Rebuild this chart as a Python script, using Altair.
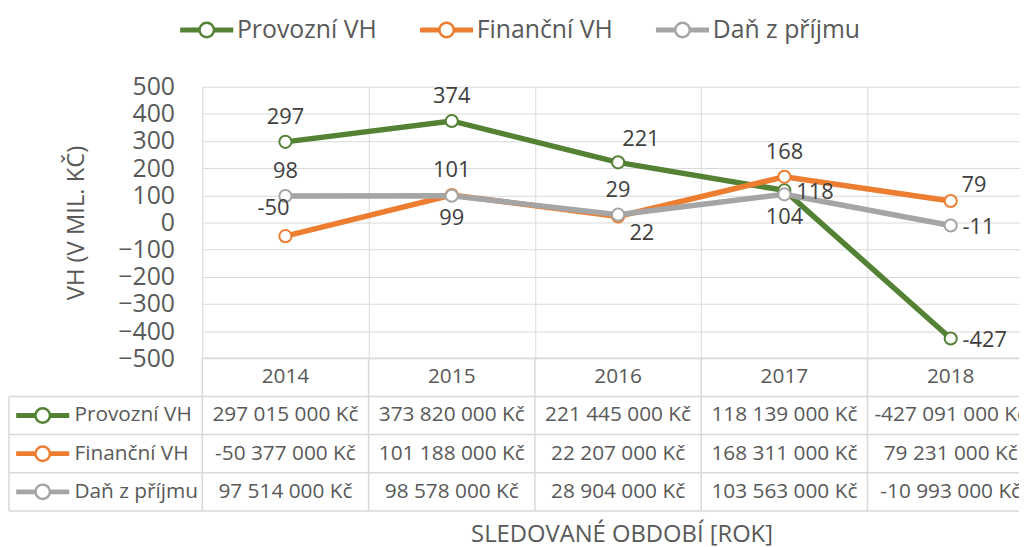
import altair as alt
import pandas as pd

# ---------------- data ----------------
years = ["2014", "2015", "2016", "2017", "2018"]
series_names = ["Provozní VH", "Finanční VH", "Daň z příjmu"]
provozni_vh = [297015000, 373820000, 221445000, 118139000, -427091000]
financni_vh = [-50377000, 101188000, 22207000, 168311000, 79231000]
dan_z_prijmu = [97514000, 98578000, 28904000, 103563000, -10993000]
series_colors = ["#548235", "#ED7D31", "#A5A5A5"]
label_placement = {
    "Provozní VH": ["above", "above", "above_right", "right", "right"],
    "Finanční VH": ["above_left", "above", "below_right", "above", "upper_right"],
    "Daň z příjmu": ["above", "below", "above", "below", "right"],
}

# ---------------- layout / style ----------------
FONT = "Open Sans"
TXT = "#595959"
LBL = "#404040"
GRID = "#D9D9D9"
COL_PX = 167.8
PLOT_W = 824
PLOT_H = 274
TABLE_H = 154
NAME_COL_PX = 195
X_MIN = -0.5
X_MAX = X_MIN + PLOT_W / COL_PX
NAME_LEFT = X_MIN - NAME_COL_PX / COL_PX


def glyph_path(box_px, half_w_px, r_px, bar_half_px):
    u = box_px / 2.0
    w = half_w_px / u
    r = r_px / u
    h = bar_half_px / u
    return (f"M{-w:.4f},{-h:.4f}H{-r:.4f}V{h:.4f}H{-w:.4f}Z "
            f"M{r:.4f},{-h:.4f}H{w:.4f}V{h:.4f}H{r:.4f}Z "
            f"M{r:.4f},0A{r:.4f},{r:.4f},0,1,1,{-r:.4f},0A{r:.4f},{r:.4f},0,1,1,{r:.4f},0Z")


GLYPH_BOX = 36
GLYPH = glyph_path(GLYPH_BOX, 25.5, 7.3, 1.2)

values = {"Provozní VH": provozni_vh, "Finanční VH": financni_vh, "Daň z příjmu": dan_z_prijmu}


def kc(v):
    return f"{v:,}".replace(",", " ") + " Kč"


rows = []
for s_i, s in enumerate(series_names):
    for i, yv in enumerate(years):
        v = values[s][i]
        rows.append(dict(series=s, idx=i, year=yv, mil=v / 1e6,
                         label=str(round(v / 1e6)), pos=label_placement[s][i],
                         row=s_i + 1.5, cell=kc(v)))
df = pd.DataFrame(rows)

color_scale = alt.Scale(domain=series_names, range=series_colors)

# ---------------- top: line chart ----------------
x_top = alt.X("idx:Q", scale=alt.Scale(domain=[X_MIN, X_MAX], nice=False, zero=False),
              axis=alt.Axis(values=[-0.5, 0.5, 1.5, 2.5, 3.5], grid=True, gridColor=GRID,
                            gridWidth=1, labels=False, ticks=False, domain=False, title=None))
y_top = alt.Y("mil:Q", scale=alt.Scale(domain=[-500, 500], nice=False, zero=False),
              axis=alt.Axis(values=list(range(-500, 501, 100)), grid=True, gridColor=GRID,
                            gridWidth=1, ticks=False, tickSize=0, domain=False,
                            labelOverlap=False, labelPadding=28, labelFontSize=25,
                            labelFont=FONT, labelColor=TXT,
                            title="VH (V MIL. KČ)", titleFont=FONT, titleFontSize=24,
                            titleFontWeight="normal", titleColor=TXT, titlePadding=30))
color_top = alt.Color("series:N", scale=color_scale,
                      legend=alt.Legend(orient="none", legendX=-15, legendY=-77,
                                        direction="horizontal", title=None,
                                        symbolType=GLYPH, symbolSize=GLYPH_BOX ** 2,
                                        symbolStrokeWidth=2.5, symbolFillColor="white",
                                        symbolOpacity=1, labelFont=FONT, labelFontSize=25,
                                        labelColor=TXT, labelOffset=11, columnPadding=38,
                                        labelLimit=400))

base = alt.Chart(df)
lines = base.mark_line(strokeWidth=5.5, clip=True).encode(x=x_top, y=y_top, color=color_top)
points = base.mark_point(shape="circle", filled=False, fill="white", fillOpacity=1,
                         size=150, strokeWidth=2, opacity=1, clip=True).encode(
    x=x_top, y=y_top, color=color_top)

placements = {
    "above": ("center", 0, -25),
    "below": ("center", 0, 23),
    "above_right": ("center", 23, -23),
    "right": ("left", 12, 2),
    "above_left": ("center", -12, -28),
    "below_right": ("center", 24, 17),
    "upper_right": ("left", 11, -16),
}
text_layers = []
for p, (al, dx, dy) in placements.items():
    text_layers.append(
        base.transform_filter(alt.datum.pos == p).mark_text(
            align=al, dx=dx, dy=dy, baseline="middle", font=FONT, fontSize=22, color=LBL
        ).encode(x=x_top, y=y_top, text="label:N")
    )

top = alt.layer(lines, points, *text_layers).properties(width=PLOT_W, height=PLOT_H)

# ---------------- bottom: data table ----------------
grid_rows = [dict(x=X_MIN, x2=X_MAX, y=0, y2=0)]
for k in range(1, 5):
    grid_rows.append(dict(x=NAME_LEFT, x2=X_MAX, y=k, y2=k))
grid_rows.append(dict(x=NAME_LEFT, x2=NAME_LEFT, y=1, y2=4))
for c in range(len(years)):
    grid_rows.append(dict(x=c - 0.5, x2=c - 0.5, y=0, y2=4))
grid_df = pd.DataFrame(grid_rows)

x_tab_scale = alt.Scale(domain=[X_MIN, X_MAX], nice=False, zero=False)
y_tab_scale = alt.Scale(domain=[0, 4], nice=False, zero=False, reverse=True)

grid = alt.Chart(grid_df).mark_rule(color=GRID, strokeWidth=1.5).encode(
    x=alt.X("x:Q", scale=x_tab_scale,
            axis=alt.Axis(labels=False, ticks=False, domain=False, grid=False,
                          title="SLEDOVANÉ OBDOBÍ [ROK]", titleFont=FONT, titleFontSize=24,
                          titleFontWeight="normal", titleColor=TXT, titlePadding=12,
                          titleX=423)),
    x2="x2:Q",
    y=alt.Y("y:Q", scale=y_tab_scale, axis=None),
    y2="y2:Q",
)

head_df = pd.DataFrame({"idx": list(range(len(years))), "year": years, "row": 0.5})
header = alt.Chart(head_df).mark_text(font=FONT, fontSize=21, color=TXT, baseline="middle",
                                      clip=True).encode(
    x="idx:Q", y=alt.Y("row:Q", scale=y_tab_scale, axis=None), text="year:N")

cells = alt.Chart(df).mark_text(font=FONT, fontSize=21, color=TXT, baseline="middle",
                                clip=True).encode(
    x="idx:Q", y=alt.Y("row:Q", scale=y_tab_scale, axis=None), text="cell:N")

name_df = pd.DataFrame({"series": series_names,
                        "row": [i + 1.5 for i in range(len(series_names))],
                        "nx": NAME_LEFT, "gx": NAME_LEFT + 34 / COL_PX})
names = alt.Chart(name_df).mark_text(font=FONT, fontSize=21, color=TXT, align="left",
                                     baseline="middle", dx=66).encode(
    x="nx:Q", y=alt.Y("row:Q", scale=y_tab_scale, axis=None), text="series:N")
glyphs = alt.Chart(name_df).mark_point(shape=GLYPH, size=GLYPH_BOX ** 2, filled=False,
                                       fill="white", fillOpacity=1, strokeWidth=2.5,
                                       opacity=1).encode(
    x="gx:Q", y=alt.Y("row:Q", scale=y_tab_scale, axis=None),
    color=alt.Color("series:N", scale=color_scale, legend=None))

table = alt.layer(grid, header, cells, names, glyphs).properties(width=PLOT_W, height=TABLE_H)

chart = (
    alt.vconcat(top, table, spacing=0, bounds="flush")
    .resolve_scale(color="independent")
    .resolve_legend(color="independent")
    .properties(padding=0)
    .configure_view(stroke=None)
    .configure_axisY(labelOverlap=False)
)

chart.save("out.html", embed_options={"renderer": "svg", "actions": False})
